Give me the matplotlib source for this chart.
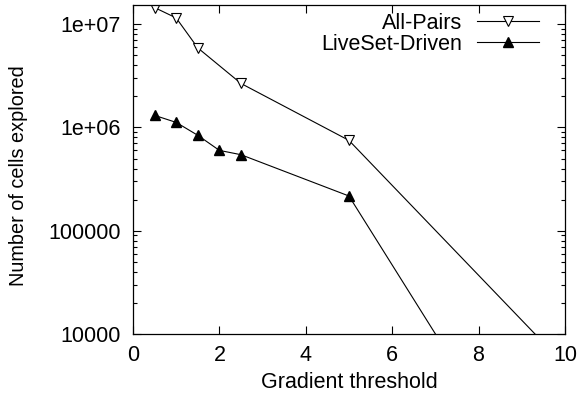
import matplotlib
matplotlib.use("Agg")
import matplotlib.pyplot as plt
from matplotlib.ticker import FixedLocator, LogLocator, NullFormatter

plt.rcParams["font.family"] = ["Liberation Sans", "DejaVu Sans"]

# ── data ─────────────────────────────────────────────────────────────────────
all_x = [0.5, 1, 1.5, 2.5, 5, 10]
all_y = [1.45e7, 1.15e7, 5.9e6, 2.67e6, 7.5e5, 5.0e3]
live_x = [0.5, 1, 1.5, 2, 2.5, 5, 10]
live_y = [1.31e6, 1.12e6, 8.4e5, 6.0e5, 5.45e5, 2.17e5, 1.0e2]

y_ticks = [1e4, 1e5, 1e6, 1e7]
y_labels = ["10000", "100000", "1e+06", "1e+07"]
x_ticks = [0, 2, 4, 6, 8, 10]

FS = 15.5

# ── figure ───────────────────────────────────────────────────────────────────
fig = plt.figure(figsize=(5.77, 3.97), dpi=100)
ax = fig.add_axes([0.2305, 0.1587, 0.979 - 0.2305, 0.987 - 0.1587])

ax.plot(all_x, all_y, "-", color="black", lw=0.8, marker="v", ms=7.5,
        mfc="white", mec="black", mew=0.8, label="All-Pairs")
ax.plot(live_x, live_y, "-", color="black", lw=0.8, marker="^", ms=7,
        mfc="black", mec="black", label="LiveSet-Driven")

ax.set_yscale("log")
ax.set_xlim(0, 10)
ax.set_ylim(1e4, 1.53e7)

ax.yaxis.set_major_locator(FixedLocator(y_ticks))
ax.set_yticklabels(y_labels)
ax.yaxis.set_minor_locator(LogLocator(base=10, subs=range(2, 10)))
ax.yaxis.set_minor_formatter(NullFormatter())
ax.set_xticks(x_ticks)
ax.set_xticklabels([str(v) for v in x_ticks])

ax.tick_params(which="both", direction="in", top=True, right=True, labelsize=FS, width=0.8)
ax.tick_params(which="major", length=6)
ax.tick_params(which="minor", length=3)
ax.tick_params(axis="y", pad=9)
ax.tick_params(axis="x", pad=8)
for s in ax.spines.values():
    s.set_linewidth(0.9)

ax.set_xlabel("Gradient threshold", fontsize=FS, va="center")
ax.set_ylabel("Number of cells explored", fontsize=14.3, va="center")
ax.xaxis.set_label_coords(0.5, -0.149)
ax.yaxis.set_label_coords(-0.265, 0.483)

ax.legend(loc="upper right", bbox_to_anchor=(0.94, 0.977), frameon=False,
          markerfirst=False, fontsize=FS, handlelength=2.9, handletextpad=0.65,
          borderaxespad=0, borderpad=0, labelspacing=0.0)

fig.savefig("out.png", dpi=100)
